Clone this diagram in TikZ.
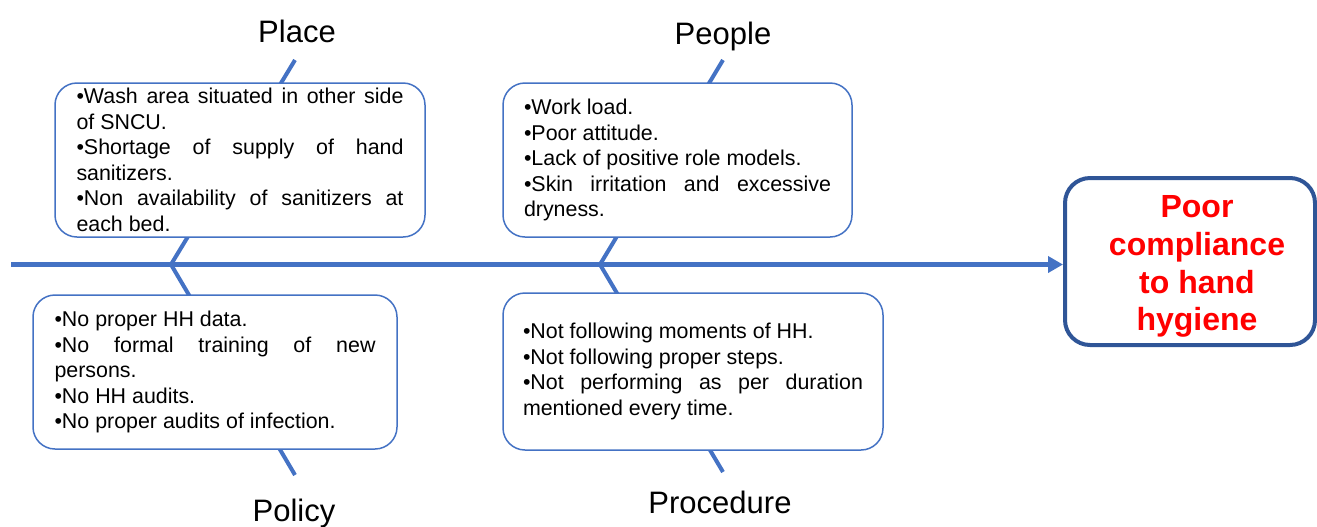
\documentclass[tikz,border=0pt]{standalone}
\usepackage{fontspec}
\setmainfont{Liberation Sans}
\usetikzlibrary{arrows.meta,positioning}
\definecolor{boneblue}{RGB}{68,114,196}
\definecolor{effectblue}{RGB}{47,85,151}
\setlength{\parindent}{0pt}

\tikzset{
    causebox/.style={draw=boneblue, line width=0.75pt, fill=white,
        rounded corners=11pt, align=justify, inner sep=0pt,
        font=\fontsize{10.7}{12.75}\selectfont},
    catlabel/.style={anchor=base, font=\fontsize{15.5}{18}\selectfont},
    bone/.style={boneblue, line width=2pt},
    spine/.style={boneblue, line width=2.5pt, -{Triangle[length=7.5pt,width=8pt]}},
    effectbox/.style={draw=effectblue, line width=2pt, rounded corners=12.5pt,
        minimum width=125pt, minimum height=83.5pt},
    effecttext/.style={text=red, align=center, inner sep=0pt,
        font=\bfseries\fontsize{16}{18.9}\selectfont}
}

\begin{document}
\begin{tikzpicture}[x=0.5pt, y=-0.5pt]
    \useasboundingbox (0,0) rectangle (1317,526);
    % effect
    \node [effectbox] (problem) at (1190,261.5) {};
    \node [effecttext] (problemText) at ([shift={(7,5)}]problem.center) {Poor\\compliance\\to hand\\hygiene};
    % spine and bones
    \coordinate (tail) at (11,264.5);
    \coordinate (j1) at (171,264.5);
    \coordinate (j2) at (600,264.5);
    \coordinate (placeEnd) at (295,60);
    \coordinate (peopleEnd) at (723,60);
    \coordinate (policyEnd) at (295,475);
    \coordinate (procEnd) at (723,472);
    \draw [spine] (tail) -- (tail -| problem.west);
    \draw [bone] (j1) -- (placeEnd);
    \draw [bone] (j1) -- (policyEnd);
    \draw [bone] (j2) -- (peopleEnd);
    \draw [bone] (j2) -- (procEnd);
    % causes
    \node [causebox, minimum width=185pt, minimum height=77pt, text width=163.5pt] (placeBox) at (240,160)
        {\textbullet Wash area situated in other side\linebreak of SNCU.\par
         \textbullet Shortage of supply of hand\linebreak sanitizers.\par
         \textbullet Non availability of sanitizers at\linebreak each bed.};
    \node [causebox, minimum width=182pt, minimum height=77pt, text width=160.5pt] (policyBox) at (215,372)
        {\textbullet No proper HH data.\par
         \textbullet No formal training of new\linebreak persons.\par
         \textbullet No HH audits.\par
         \textbullet No proper audits of infection.};
    \node [causebox, minimum width=174.5pt, minimum height=77pt, text width=153.5pt] (peopleBox) at (677.5,160)
        {\textbullet Work load.\par
         \textbullet Poor attitude.\par
         \textbullet Lack of positive role models.\par
         \textbullet Skin irritation and excessive\linebreak dryness.};
    \node [causebox, minimum width=190pt, minimum height=78.5pt, text width=170pt] (procBox) at (693,371.5)
        {\textbullet Not following moments of HH.\par
         \textbullet Not following proper steps.\par
         \textbullet Not performing as per duration\linebreak mentioned every time.};
    % category labels
    \node [catlabel] (place) at (297,42) {Place};
    \node [catlabel] (people) at (723,44) {People};
    \node [catlabel] (policy) at (294,521) {Policy};
    \node [catlabel] (procedure) at (720,513) {Procedure};
\end{tikzpicture}
\end{document}
